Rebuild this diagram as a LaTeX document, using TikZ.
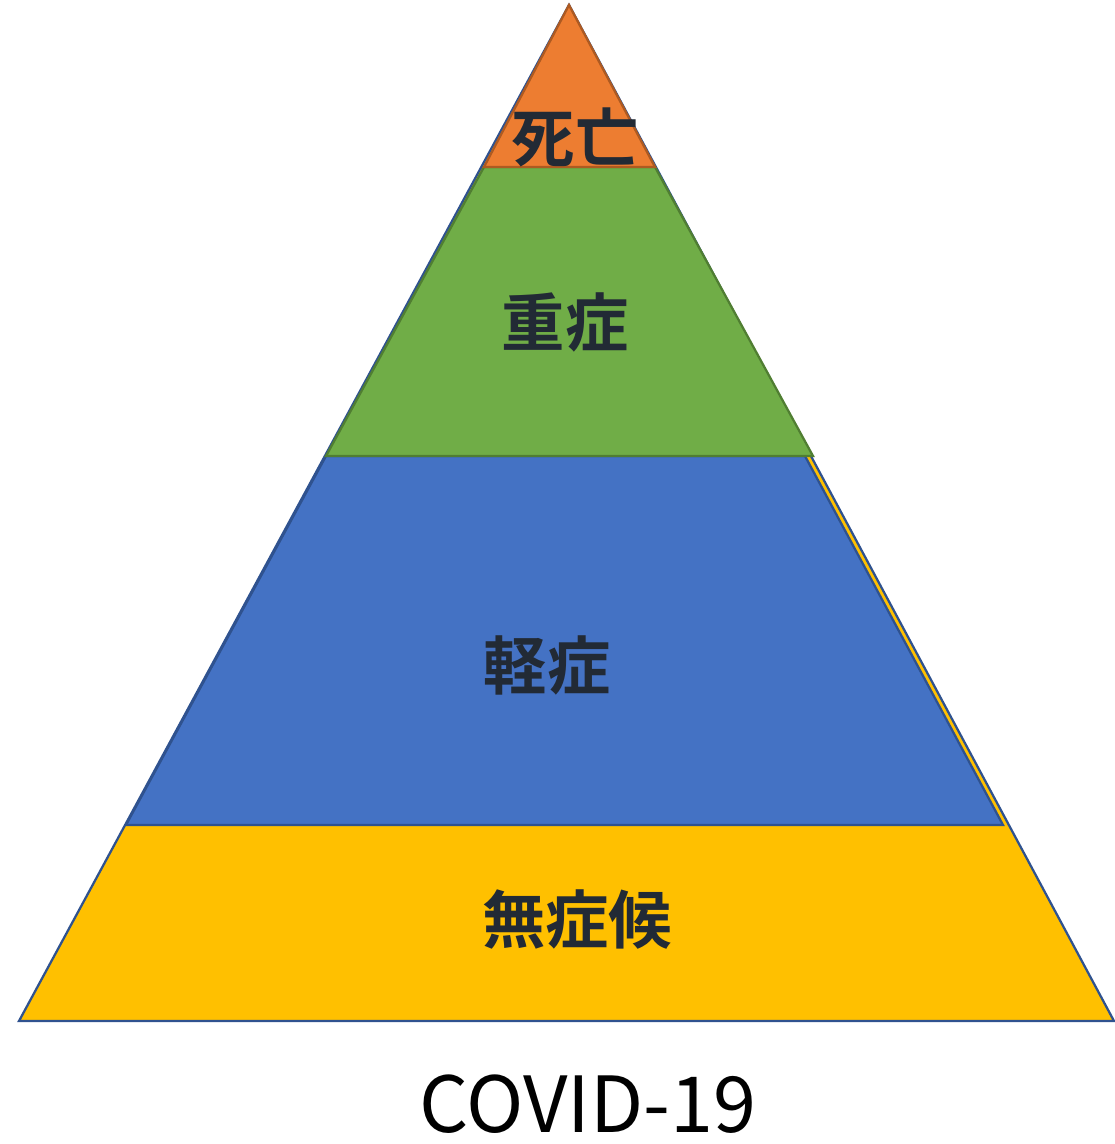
\documentclass[tikz,border=0pt]{standalone}
\usepackage{fontspec}
\newfontfamily\jpfont{Noto Sans CJK JP}
\newfontfamily\jpbold{Noto Sans CJK JP Bold}
\usepackage{tikz}
\usetikzlibrary{calc}

\definecolor{deathfill}{HTML}{ED7D31}
\definecolor{deathline}{HTML}{AE5A21}
\definecolor{severefill}{HTML}{70AD47}
\definecolor{severeline}{HTML}{507E32}
\definecolor{mildfill}{HTML}{4472C4}
\definecolor{mildline}{HTML}{2F528F}
\definecolor{nonefill}{HTML}{FFC000}
\definecolor{labeltext}{HTML}{222A35}

\tikzset{
	layerlabel/.style = {text=labeltext, font=\jpbold\fontsize{45}{45}\selectfont, inner sep=0pt},
}

\begin{document}
\begin{tikzpicture}[x=0.025cm, y=-0.025cm, line width=1.6pt, line join=miter]
			\useasboundingbox (0,0) rectangle (1114,1144);
			\draw [mildline, fill=nonefill] (569,5) to (1114,1021) to (19,1021) -- cycle;
			\draw [mildline, fill=mildfill] (326,456) to (805,456) to (1003,825) to (126,825) -- cycle;
			\draw [severeline, fill=severefill] (484,167) to (655,167) to (813,456) to (326,456) -- cycle;
			\draw [deathline, fill=deathfill] (569,5) to (655,167) to (484,167) -- cycle;

			\node [layerlabel] (death) at (575,137) {死亡};
			\node [layerlabel] (severe) at (565,322) {重症};
			\node [layerlabel] (mild) at (547,665) {軽症};
			\node [layerlabel] (none) at (577,920) {無症候};
			\node [font=\jpfont\fontsize{55}{55}\selectfont, inner sep=0pt] (title) at (588,1104) {COVID-19};
		\end{tikzpicture}
\end{document}
